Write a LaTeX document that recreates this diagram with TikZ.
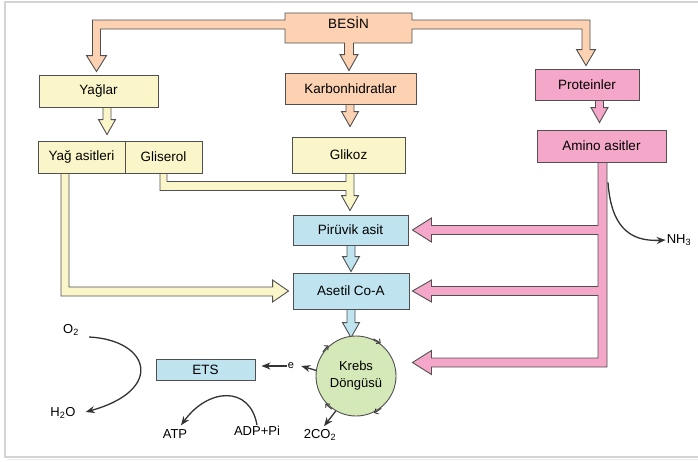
\documentclass[tikz,border=0pt]{standalone}
\usepackage{fontspec}
\setmainfont{Liberation Sans}
\usetikzlibrary{calc,arrows.meta}
\pgfdeclarelayer{background}
\pgfsetlayers{background,main}

\definecolor{food}{HTML}{FCD2B2}
\definecolor{fat}{HTML}{FAF6C9}
\definecolor{prot}{HTML}{F4A7C8}
\definecolor{energy}{HTML}{BFE4EF}
\definecolor{cyclegreen}{HTML}{D5E8B8}
\definecolor{edge}{HTML}{505050}
\definecolor{ink}{HTML}{333333}

\tikzset{
  box/.style={draw=edge, line width=0.9pt, rectangle, inner sep=0pt,
              font=\fontsize{13.5}{15}\selectfont},
  flow/.style={draw=edge, line width=0.9pt, line join=miter},
  lbl/.style={inner sep=1pt, font=\fontsize{13}{15}\selectfont},
  arr/.style={draw=ink, line width=1.3pt, -{Stealth[length=9pt,width=7pt]}},
  cyc/.style={draw=ink, line width=0.9pt, -{Straight Barb[length=3pt,width=6pt]}},
}

% downward block arrow: fill, source node, target node, x shift, tip offset
\newcommand\blockdown[5]{%
  \path ($(#2.south)+(#4,0)$) coordinate (bdA);
  \path (bdA |- #3.north) coordinate (bdB);
  \draw[flow, fill=#1] ($(bdA)+(-4,0)$) -- ($(bdB)+(-4,#5-15)$)
    -- ($(bdB)+(-8.5,#5-15)$) -- ($(bdB)+(0,#5)$) -- ($(bdB)+(8.5,#5-15)$)
    -- ($(bdB)+(4,#5-15)$) -- ($(bdA)+(4,0)$) -- cycle;
}

\begin{document}
\begin{tikzpicture}[x=1pt,y=-1pt]
\useasboundingbox (0,0) rectangle (698,461);

% page frame
\draw[black!17, line width=2pt] (698,1.5) -- (5,1.5) -- (5,457) -- (698,457);
\draw[black!8, line width=1.5pt] (7,459.5) -- (698,459.5);

% boxes
\node[minimum width=127pt, minimum height=30pt, inner sep=0pt, outer sep=0pt] (besin) at (348.5,28) {};
\node[box, fill=food, minimum width=131pt, minimum height=31pt] (karbon) at (350.5,88.5) {Karbonhidratlar};
\node[box, fill=fat, minimum width=119pt, minimum height=32pt] (yaglar) at (98.5,91) {Yağlar};
\node[box, fill=fat, minimum width=87pt, minimum height=32pt] (yagasit) at (81.5,157) {Yağ asitleri};
\node[box, fill=fat, minimum width=77pt, minimum height=32pt] (gliserol) at (163.5,157) {Gliserol};
\node[box, fill=fat, minimum width=113pt, minimum height=36pt] (glikoz) at (348.5,155) {Glikoz};
\node[box, fill=prot, minimum width=104pt, minimum height=31pt] (proteinler) at (587,84.5) {Proteinler};
\node[box, fill=prot, minimum width=129pt, minimum height=32pt] (amino) at (601.5,146) {Amino asitler};
\node[box, fill=energy, minimum width=115pt, minimum height=30pt] (piruvik) at (350.5,230) {Pirüvik asit};
\node[box, fill=energy, minimum width=116pt, minimum height=36pt] (asetil) at (351,291) {Asetil Co-A};
\node[box, circle, fill=cyclegreen, minimum size=80pt, align=center,
      font=\fontsize{13}{17}\selectfont] (krebs) at (356,376) {Krebs\\Döngüsü};
\node[box, fill=energy, minimum width=99pt, minimum height=21pt] (ets) at (205.5,369.5) {ETS};

% free labels
\node[lbl, font=\fontsize{13.5}{15}\selectfont] (besintext) at ($(besin.north)+(0,10)$) {BESİN};
\node[lbl, font=\fontsize{11}{13}\selectfont] (e) at (291,366) {e};
\node[lbl] (o2) at (71,330) {O\textsubscript{2}};
\node[lbl] (h2o) at (63,413) {H\textsubscript{2}O};
\node[lbl] (atp) at (175,434) {ATP};
\node[lbl] (adp) at (257,431) {ADP+Pi};
\node[lbl] (co2) at (320,435) {2CO\textsubscript{2}};
\node[lbl] (nh3) at (679,240) {NH\textsubscript{3}};

\begin{pgfonlayer}{background}
  % food source split into three branches
  \coordinate (lx) at ($(yaglar.north)+(-2,0)$);
  \coordinate (rx) at ($(proteinler.north)+(-1,0)$);
  \coordinate (cx) at ($(besin.south)+(0.5,0)$);
  \draw[flow, fill=food] (besin.north west) -- (besin.north east)
    -- ($(besin.north east)+(0,7)$) -- ($(rx |- besin.north)+(4,7)$)
    -- ($(rx |- proteinler.north)+(4,-19)$) -- ($(rx |- proteinler.north)+(9.5,-19)$)
    -- ($(rx |- proteinler.north)+(0,-3)$) -- ($(rx |- proteinler.north)+(-9.5,-19)$)
    -- ($(rx |- proteinler.north)+(-4,-19)$) -- ($(rx |- besin.north)+(-4,16)$)
    -- ($(besin.north east)+(0,16)$) -- (besin.south east)
    -- ($(cx)+(4.5,0)$) -- ($(cx |- karbon.north)+(4.5,-18)$)
    -- ($(cx |- karbon.north)+(9,-18)$) -- ($(cx |- karbon.north)+(0,-2)$)
    -- ($(cx |- karbon.north)+(-9,-18)$) -- ($(cx |- karbon.north)+(-4.5,-18)$)
    -- ($(cx)+(-4.5,0)$) -- (besin.south west)
    -- ($(besin.north west)+(0,16)$) -- ($(lx |- besin.north)+(4,16)$)
    -- ($(lx |- yaglar.north)+(4,-19)$) -- ($(lx |- yaglar.north)+(10,-19)$)
    -- ($(lx |- yaglar.north)+(0,-3)$) -- ($(lx |- yaglar.north)+(-10,-19)$)
    -- ($(lx |- yaglar.north)+(-4,-19)$) -- ($(lx |- besin.north)+(-4,7)$)
    -- ($(besin.north west)+(0,7)$) -- cycle;

  % simple downward block arrows
  \blockdown{fat}{yaglar}{yagasit}{8.5}{-6}
  \blockdown{food}{karbon}{glikoz}{-0.5}{-10}
  \blockdown{prot}{proteinler}{amino}{12.5}{-7}
  \blockdown{energy}{piruvik}{asetil}{0.5}{-1}
  \blockdown{energy}{asetil}{krebs}{0}{2}

  % glucose and glycerol into pyruvic acid
  \coordinate (gx) at ($(glikoz.south)+(1.5,0)$);
  \coordinate (gl) at (gliserol.south);
  \draw[flow, fill=fat] ($(gx)+(4,0)$) -- ($(gx |- piruvik.north)+(4,-19)$)
    -- ($(gx |- piruvik.north)+(8.5,-19)$) -- ($(gx |- piruvik.north)+(0,-4)$)
    -- ($(gx |- piruvik.north)+(-8.5,-19)$) -- ($(gx |- piruvik.north)+(-4,-19)$)
    -- ($(gx)+(-4,17)$) -- ($(gl)+(-3.5,17)$) -- ($(gl)+(-3.5,0)$)
    -- ($(gl)+(3.5,0)$) -- ($(gl)+(3.5,8)$) -- ($(gx)+(-4,8)$)
    -- ($(gx)+(-4,0)$) -- cycle;

  % fatty acids into acetyl CoA
  \coordinate (ya) at (yagasit.south);
  \coordinate (ta) at ($(asetil.west)+(-4,0)$);
  \draw[flow, fill=fat] ($(ya)+(-20.5,0)$) -- ($(ya |- ta)+(-20.5,5)$)
    -- ($(ta)+(-16,5)$) -- ($(ta)+(-16,11)$) -- (ta) -- ($(ta)+(-16,-11)$)
    -- ($(ta)+(-16,-4)$) -- ($(ya |- ta)+(-12.5,-4)$) -- ($(ya)+(-12.5,0)$) -- cycle;

  % amino acids into pyruvic acid, acetyl CoA and the Krebs cycle
  \coordinate (pc) at ($(amino.south)+(1,0)$);
  \coordinate (t1) at ($(piruvik.east)+(4,0)$);
  \coordinate (t2) at ($(asetil.east)+(3,0)$);
  \coordinate (t3) at ($(t1 |- krebs.center)+(0,-13.5)$);
  \draw[flow, fill=prot] ($(pc)+(-4.5,0)$)
    -- ($(pc |- t1)+(-4.5,-4.5)$) -- ($(t1)+(19,-4.5)$) -- ($(t1)+(19,-12)$) -- (t1)
    -- ($(t1)+(19,12)$) -- ($(t1)+(19,4.5)$) -- ($(pc |- t1)+(-4.5,4.5)$)
    -- ($(pc |- t2)+(-4.5,-4.5)$) -- ($(t2)+(19,-4.5)$) -- ($(t2)+(19,-11)$) -- (t2)
    -- ($(t2)+(19,11)$) -- ($(t2)+(19,4.5)$) -- ($(pc |- t2)+(-4.5,4.5)$)
    -- ($(pc |- t3)+(-4.5,-4.5)$) -- ($(t3)+(19,-4.5)$) -- ($(t3)+(19,-12)$) -- (t3)
    -- ($(t3)+(19,12)$) -- ($(t3)+(19,4.5)$) -- ($(pc |- t3)+(4.5,4.5)$)
    -- ($(pc)+(4.5,0)$) -- cycle;
\end{pgfonlayer}

% turning marks on the Krebs cycle
\draw[cyc] ($(krebs.center)+(295:41)$) arc[start angle=295, end angle=307, radius=41];
\draw[cyc] ($(krebs.center)+(52:41)$) arc[start angle=52, end angle=64, radius=41];
\draw[cyc] ($(krebs.center)+(126:41)$) arc[start angle=126, end angle=138, radius=41];
\draw[cyc] ($(krebs.center)+(216:41)$) arc[start angle=216, end angle=228, radius=41];

% thin reaction arrows
\draw[arr] (krebs.172) -- ($(e.east)+(6,0)$);
\draw[arr, shorten >=6pt] (e.west) -- (ets.east |- e.west);
\draw[arr] (krebs.240) -- ($(co2.north)+(4,-2)$);
\draw[arr] ($(o2.east)+(9,7)$) .. controls (150,340) and (165,390) .. ($(h2o.east)+(9,-1)$);
\draw[arr] (adp.north) .. controls (250,385) and (208,388) .. ($(atp.north)+(6,-3)$);
\coordinate (nhs) at ($(amino.south)+(6.5,20)$);
\draw[arr] (nhs) .. controls ($(nhs)+(3,42)$) and ($(nh3.west)+(-38,2)$) .. (nh3.west);
\end{tikzpicture}
\end{document}
